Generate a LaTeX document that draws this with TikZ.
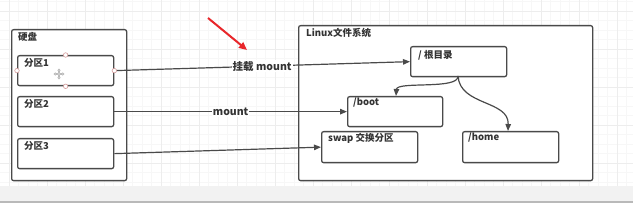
\documentclass[tikz,border=0pt]{standalone}
\usepackage{fontspec}
\setmainfont{Noto Sans CJK SC}
\usetikzlibrary{arrows.meta}
\definecolor{lc}{HTML}{4A4A4A}
\definecolor{tc}{HTML}{333333}
\definecolor{gmaj}{HTML}{EDEDED}
\definecolor{gmin}{HTML}{F7F7F7}
\definecolor{band}{HTML}{F2F2F2}
\definecolor{hc}{HTML}{D49A9A}
\definecolor{ra}{HTML}{E8262A}
\begin{document}
\begin{tikzpicture}[x=1pt,y=-1pt,
  box/.style={draw=lc, line width=1.3pt, rounded corners=2pt, anchor=north west, inner sep=0pt, fill=white},
  lbl/.style={anchor=north west, inner sep=0pt, font=\fontsize{9.5}{11}\selectfont\bfseries, text=tc},
  conn/.style={draw=lc, line width=1.2pt, -{Triangle[length=7pt,width=5.5pt]}},
  plain/.style={draw=lc, line width=1.2pt},
  clbl/.style={fill=white, inner sep=1pt, font=\fontsize{10.5}{12}\selectfont\bfseries, text=tc},
  handle/.style={circle, draw=hc, fill=white, line width=0.6pt, minimum size=4.5pt, inner sep=0pt}]
\useasboundingbox (0,0) rectangle (633,203);
% background grid
\fill[white] (0,0) rectangle (633,186);
\foreach \i in {0,...,66} {\draw[gmin, line width=0.4pt] ({-0.5+9.5*\i},0) -- ({-0.5+9.5*\i},186);}
\foreach \j in {0,...,19} {\draw[gmin, line width=0.4pt] (0,{1.5+9.5*\j}) -- (633,{1.5+9.5*\j});}
\foreach \i in {0,...,16} {\draw[gmaj, line width=0.6pt] ({9+38*\i},0) -- ({9+38*\i},186);}
\foreach \j in {0,...,4} {\draw[gmaj, line width=0.6pt] (0,{11+38*\j}) -- (633,{11+38*\j});}
\fill[band] (0,186) rectangle (633,201);
\fill[gray!55] (0,201) rectangle (633,203);

% hard disk
\node[box, minimum width=115pt, minimum height=151pt, label={[lbl, xshift=7pt, yshift=-3pt]north west:硬盘}] (disk) at (11,29) {};
\node[box, minimum width=96pt, minimum height=30pt, label={[lbl, xshift=7pt, yshift=-3pt]north west:分区1}] (p1) at (17,55) {};
\node[box, minimum width=96pt, minimum height=30pt, label={[lbl, xshift=7pt, yshift=-3pt]north west:分区2}] (p2) at (17,96) {};
\node[box, minimum width=96pt, minimum height=30pt, label={[lbl, xshift=7pt, yshift=-3pt]north west:分区3}] (p3) at (17,138) {};

% linux fs
\node[box, minimum width=294pt, minimum height=155pt, label={[lbl, xshift=8pt, yshift=-3pt]north west:Linux文件系统}] (fs) at (298,25) {};
\node[box, minimum width=96pt, minimum height=30pt, label={[lbl, xshift=8pt, yshift=-4pt]north west:/ 根目录}] (root) at (410,46) {};
\node[box, minimum width=95pt, minimum height=30pt, label={[lbl, xshift=6pt, yshift=-2pt]north west:/boot}] (boot) at (347,96) {};
\node[box, minimum width=96pt, minimum height=31pt, label={[lbl, xshift=7pt, yshift=-2pt]north west:swap 交换分区}] (swap) at (321,131) {};
\node[box, minimum width=96pt, minimum height=31pt, label={[lbl, xshift=6pt, yshift=-2pt]north west:/home}] (home) at (462,131) {};

% connectors
\draw[conn] (p1.east) -- node[clbl, pos=0.5] (l1) {挂载 mount} (root.west);
\draw[conn] (p2.east) -- node[clbl, pos=0.5] (l2) {mount} (boot.west);
\draw[conn] (p3.east) -- (swap.west);
\coordinate (rb) at (458,76);
\draw[conn] (rb) .. controls (459,90) and (397,81) .. (boot.north -| 396,0);
\draw[conn] (rb) .. controls (460,106) and (509,100) .. (home.north -| 508,0);

% selection handles on 分区1
\node[handle] (h1) at (p1.north) {};
\node[handle] (h2) at (p1.south) {};
\node[handle] (h3) at (p1.west) {};
\node[handle] (h4) at (p1.east) {};
% move icon
\coordinate (mv) at (59,74);
\foreach \dx/\dy in {0/-5.5,0/5.5,-5.5/0,5.5/0}
  {\draw[gray!55, line width=1.1pt, -{Triangle[length=2.2pt,width=3.5pt]}] (mv) -- ++(\dx,\dy);}
\fill[gray!40] (mv) circle (1.6pt);

% red arrow
\coordinate (ra1) at (208,18);
\coordinate (ra2) at (247,50);
\draw[ra, line width=2pt, -{Triangle[length=8pt,width=7pt]}] (ra1) -- (ra2);
\end{tikzpicture}
\end{document}
